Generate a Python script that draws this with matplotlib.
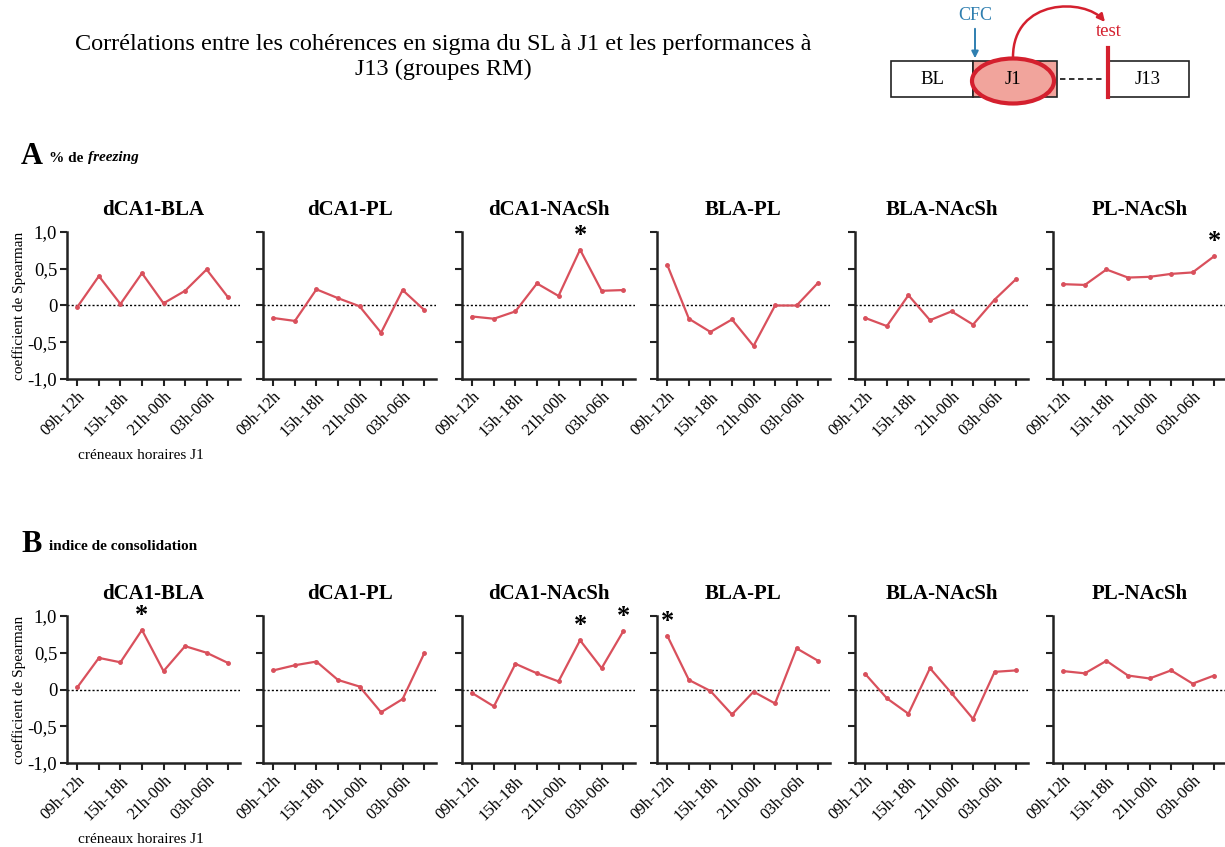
import numpy as np
import matplotlib.pyplot as plt
from matplotlib.patches import Rectangle, Ellipse, FancyArrowPatch
from matplotlib.path import Path

plt.rcParams['font.family'] = ['Liberation Serif', 'DejaVu Serif']

# Données
paires = ['dCA1-BLA', 'dCA1-PL', 'dCA1-NAcSh', 'BLA-PL', 'BLA-NAcSh', 'PL-NAcSh']
creneaux = ['09h-12h', '12h-15h', '15h-18h', '18h-21h',
            '21h-00h', '00h-03h', '03h-06h', '06h-09h']

# A : % de freezing
freezing = [
    [-0.02, 0.40, 0.02, 0.44, 0.03, 0.20, 0.49, 0.11],
    [-0.17, -0.21, 0.22, 0.10, -0.01, -0.37, 0.21, -0.06],
    [-0.15, -0.18, -0.08, 0.30, 0.13, 0.76, 0.20, 0.21],
    [0.55, -0.18, -0.36, -0.19, -0.55, 0.00, 0.00, 0.31],
    [-0.17, -0.28, 0.14, -0.20, -0.08, -0.26, 0.08, 0.36],
    [0.29, 0.28, 0.49, 0.38, 0.39, 0.43, 0.45, 0.67],
]
etoiles_freezing = [[], [], [5], [], [], [7]]

# B : indice de consolidation
consolidation = [
    [0.03, 0.43, 0.37, 0.81, 0.25, 0.59, 0.50, 0.36],
    [0.26, 0.33, 0.38, 0.13, 0.04, -0.31, -0.13, 0.49],
    [-0.05, -0.23, 0.35, 0.22, 0.11, 0.67, 0.29, 0.79],
    [0.73, 0.13, -0.02, -0.34, -0.03, -0.19, 0.56, 0.39],
    [0.21, -0.12, -0.33, 0.29, -0.05, -0.40, 0.24, 0.26],
    [0.25, 0.22, 0.39, 0.19, 0.15, 0.26, 0.08, 0.19],
]
etoiles_consolidation = [[3], [], [5, 7], [0], [], []]

rouge = '#d9505c'
W, H = 1225, 847
fig = plt.figure(figsize=(W / 100, H / 100), dpi=100)

gauches = [67, 263, 462, 657, 855, 1053]
largeur = 173


def ligne(valeurs, etoiles, haut, bas):
    for i, nom in enumerate(paires):
        ax = fig.add_axes([gauches[i] / W, 1 - bas / H, largeur / W, (bas - haut) / H])
        x = np.arange(len(creneaux))
        ax.axhline(0, color='black', ls=(0, (1.5, 1.5)), lw=1, zorder=1)
        ax.plot(x, valeurs[i], color=rouge, lw=1.6, marker='o', ms=2.5, zorder=3)
        for k in etoiles[i]:
            ax.text(k, valeurs[i][k] + 0.04, '*', ha='center', va='bottom',
                    fontsize=19, fontweight='bold')
        ax.set_xlim(-0.48, 7.55)
        ax.set_ylim(-1.0, 1.0)
        ax.set_xticks(x)
        ax.set_xticklabels([c if j % 2 == 0 else '' for j, c in enumerate(creneaux)],
                           rotation=45, ha='right', rotation_mode='anchor', fontsize=12)
        ax.set_yticks([-1, -0.5, 0, 0.5, 1])
        if i == 0:
            ax.set_yticklabels(['-1,0', '-0,5', '0', '0,5', '1,0'], fontsize=13.5)
            ax.set_ylabel('coefficient de Spearman', fontsize=11, labelpad=1)
        else:
            ax.set_yticklabels([])
        for s in ['top', 'right']:
            ax.spines[s].set_visible(False)
        for s in ['left', 'bottom']:
            ax.spines[s].set_linewidth(1.8)
            ax.spines[s].set_color('#222222')
        ax.tick_params(width=1.5, length=5, color='#222222', pad=2)
        ax.set_title(nom, fontsize=15, fontweight='bold', pad=12)
    fig.text(78 / W, 1 - (bas + 76) / H, 'créneaux horaires J1', fontsize=11, va='center')


ligne(freezing, etoiles_freezing, 232, 379)
ligne(consolidation, etoiles_consolidation, 616, 763)

# Titres
fig.text(443 / W, 1 - 57 / H,
         'Corrélations entre les cohérences en sigma du SL à J1 et les performances à\nJ13 (groupes RM)',
         ha='center', va='center', fontsize=17.5, linespacing=1.25)
fig.text(21 / W, 1 - 157 / H, 'A', fontsize=22, fontweight='bold', va='center')
fig.text(49 / W, 1 - 158 / H, '% de', fontsize=11, fontweight='bold', va='center')
fig.text(88 / W, 1 - 158 / H, 'freezing', fontsize=11, fontweight='bold',
         fontstyle='italic', va='center')
fig.text(21 / W, 1 - 545 / H, 'B', fontsize=22, fontweight='bold', va='center')
fig.text(49 / W, 1 - 546 / H, 'indice de consolidation', fontsize=11,
         fontweight='bold', va='center')

# Schéma du protocole
sch = fig.add_axes([0, 0, 1, 1], zorder=-1)
sch.set_xlim(0, W)
sch.set_ylim(H, 0)
sch.axis('off')
sch.add_patch(Rectangle((891, 61), 82, 36, fill=False, lw=1.2, ec='#222222'))
sch.add_patch(Rectangle((973, 61), 84, 36, fc='#f1a49c', lw=1.2, ec='#222222'))
sch.add_patch(Ellipse((1013, 81), 82, 45, fc='#f1a49c', ec='#d4202e', lw=3))
sch.add_patch(Rectangle((1107, 61), 82, 36, fill=False, lw=1.2, ec='#222222'))
sch.plot([1060, 1103], [79, 79], color='#222222', ls=(0, (3, 2)), lw=1.3)
sch.plot([1108, 1108], [48, 97], color='#d4202e', lw=3)
sch.text(932, 80, 'BL', ha='center', va='center', fontsize=13.5)
sch.text(1013, 80, 'J1', ha='center', va='center', fontsize=13.5)
sch.text(1148, 80, 'J13', ha='center', va='center', fontsize=13.5)
sch.text(975, 16, 'CFC', ha='center', va='center', fontsize=13, color='#2f7fb0')
sch.text(1109, 32, 'test', ha='center', va='center', fontsize=13.5, color='#d4202e')
sch.add_patch(FancyArrowPatch((975, 26), (975, 61), arrowstyle='-|>', mutation_scale=10,
                              color='#2f7fb0', lw=1.4))
arc = Path([(1013, 57), (1013, -2), (1085, -2), (1105, 22)],
           [Path.MOVETO, Path.CURVE4, Path.CURVE4, Path.CURVE4])
sch.add_patch(FancyArrowPatch(path=arc, arrowstyle='-|>', mutation_scale=11,
                              color='#d4202e', lw=1.8))

fig.savefig('out.png', dpi=100)
